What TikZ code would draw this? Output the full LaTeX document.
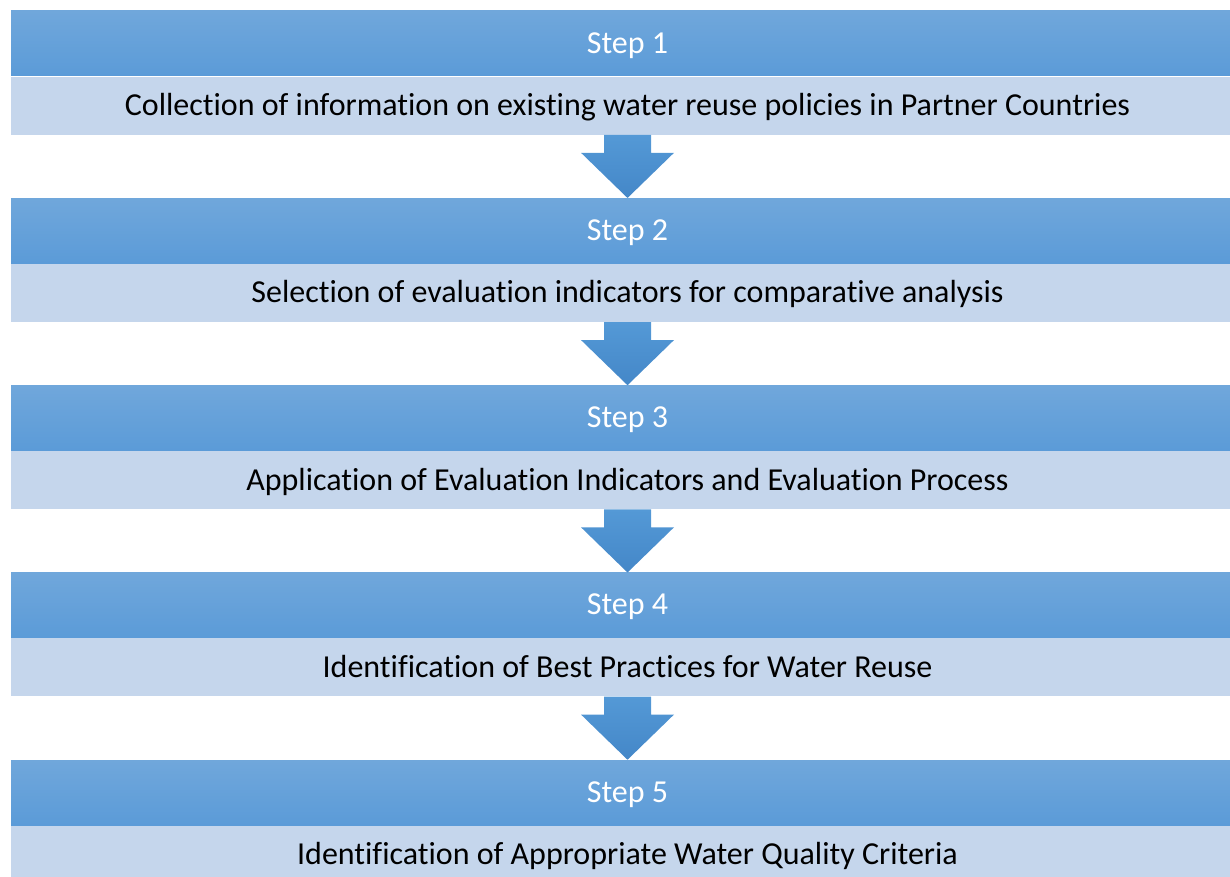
\documentclass[tikz,border=0pt]{standalone}
\usepackage{fontspec}
\setmainfont{Carlito}[Ligatures=NoCommon]
\usetikzlibrary{calc, positioning}

\definecolor{headtop}{HTML}{70A7DB}
\definecolor{headbot}{HTML}{5B9BD8}
\definecolor{bodyfill}{HTML}{C5D6EC}
\definecolor{arrtop}{HTML}{5499D6}
\definecolor{arrbot}{HTML}{4487C8}

\tikzset{
  stephead/.style={rectangle, minimum width=924.75pt, minimum height=48.75pt, inner sep=0,
    top color=headtop, bottom color=headbot, text=white,
    text height=17pt, text depth=2.5pt,
    font=\fontsize{24}{26}\selectfont},
  stepbody/.style={rectangle, minimum width=924.75pt, minimum height=43.5pt, inner sep=0,
    fill=bodyfill, text=black, text height=17pt, text depth=2pt,
    font=\fontsize{24}{26}\selectfont},
  blockarrow/.style={top color=arrtop, bottom color=arrbot, draw=none}
}

% block arrow from the bottom of one body to the top of the next header
\newcommand{\downarrowblock}[2]{%
  \path[blockarrow]
    ($(#1.south)+(-23.5,0)$) -- ($(#1.south)+(23.5,0)$)
    -- ($(#1.south)+(23.5,18)$) -- ($(#1.south)+(46.5,18)$)
    -- (#2.north) -- ($(#1.south)+(-46.5,18)$)
    -- ($(#1.south)+(-23.5,18)$) -- cycle;
}

\begin{document}
\begin{tikzpicture}[x=0.75pt, y=-0.75pt]
\useasboundingbox (0,0) rectangle (1230,877);
\clip (0,0) rectangle (1230,877);

\node[stephead] (h1) at (627.5, 43.5) {Step 1};
\node[stepbody, below=0 of h1] (b1) {Collection of information on existing water reuse policies in Partner Countries};

\node[stephead] (h2) at (627.5, 230.75) {Step 2};
\node[stepbody, below=0 of h2] (b2) {Selection of evaluation indicators for comparative analysis};

\node[stephead] (h3) at (627.5, 418) {Step 3};
\node[stepbody, below=0 of h3] (b3) {Application of Evaluation Indicators and Evaluation Process};

\node[stephead] (h4) at (627.5, 605.25) {Step 4};
\node[stepbody, below=0 of h4] (b4) {Identification of Best Practices for Water Reuse};

\node[stephead] (h5) at (627.5, 792.5) {Step 5};
\node[stepbody, below=0 of h5] (b5) {Identification of Appropriate Water Quality Criteria};

\downarrowblock{b1}{h2}
\downarrowblock{b2}{h3}
\downarrowblock{b3}{h4}
\downarrowblock{b4}{h5}
\end{tikzpicture}
\end{document}
